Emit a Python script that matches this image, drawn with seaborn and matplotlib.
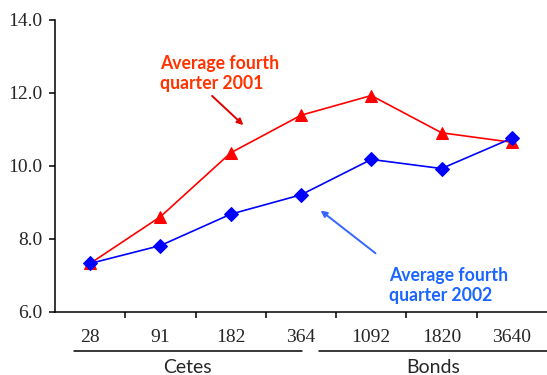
import matplotlib
matplotlib.use('Agg')
import matplotlib.pyplot as plt
import matplotlib.transforms as mtransforms
import pandas as pd
import seaborn as sns

# data
maturities = ['28', '91', '182', '364', '1092', '1820', '3640']
avg_2001 = [7.33, 8.61, 10.36, 11.39, 11.93, 10.91, 10.65]
avg_2002 = [7.33, 7.82, 8.68, 9.21, 10.18, 9.93, 10.76]
groups = ['Cetes', 'Bonds']
yticks = [6.0, 8.0, 10.0, 12.0, 14.0]

df01 = pd.DataFrame({'maturity': maturities, 'rate': avg_2001})
df02 = pd.DataFrame({'maturity': maturities, 'rate': avg_2002})

sns.set_style('white')
plt.rcParams['font.family'] = ['Liberation Serif', 'DejaVu Serif']

fig = plt.figure(figsize=(5.47, 3.75), dpi=100)
ax = fig.add_axes([0.1005, 0.168, 0.8995, 0.7787])

sns.lineplot(data=df01, x='maturity', y='rate', color='#FF0000', marker='^',
             markersize=9, markeredgecolor='#FF0000', linewidth=1.2, ax=ax)
sns.lineplot(data=df02, x='maturity', y='rate', color='#0000FF', marker='D',
             markersize=7, markeredgecolor='#0000FF', linewidth=1.2, ax=ax)

ax.set_xlim(-0.5, len(maturities) - 0.5)
ax.set_ylim(6.0, 14.0)
ax.set_yticks(yticks)
ax.set_yticklabels(['%.1f' % v for v in yticks], fontsize=14)
ax.set_xticks(range(len(maturities)))
ax.set_xticklabels(maturities, fontsize=14)
ax.set_xticks([i + 0.5 for i in range(len(maturities) - 1)], minor=True)
ax.tick_params(axis='x', which='major', length=0, pad=12)
ax.tick_params(axis='x', which='minor', length=4, width=1.1, color='black', direction='out', bottom=True)
ax.tick_params(axis='y', length=4, width=1.1, color='black', direction='out', left=True, pad=5)
ax.set_xlabel('')
ax.set_ylabel('')
for s in ['top', 'right']:
    ax.spines[s].set_visible(False)
for s in ['left', 'bottom']:
    ax.spines[s].set_color('black')
    ax.spines[s].set_linewidth(1.1)

# group labels under the tick labels
trans = mtransforms.blended_transform_factory(ax.transData, ax.transAxes)
spans = [(-0.23, 3.01), (3.26, 6.5)]
for name, (x0, x1) in zip(groups, spans):
    ax.plot([x0, x1], [-0.1325, -0.1325], color='black', lw=1.1, transform=trans, clip_on=False)
    ax.text((x0 + x1) / 2, -0.19, name, transform=trans, ha='center', va='center',
            fontsize=14, family=['Lato', 'DejaVu Sans'])

# annotations
ax.text(0.99, 13.04, 'Average fourth\nquarter 2001', color='#FF3300', fontsize=12.7,
        fontweight='bold', family=['Lato', 'DejaVu Sans'], ha='left', va='top', linespacing=1.2)
ax.annotate('', xy=(2.18, 11.12), xytext=(1.735, 11.92),
            arrowprops=dict(arrowstyle='-|>', color='#E00000', lw=1.4, mutation_scale=9,
                            shrinkA=0, shrinkB=0))
ax.text(4.25, 7.23, 'Average fourth\nquarter 2002', color='#1A66FF', fontsize=12.7,
        fontweight='bold', family=['Lato', 'DejaVu Sans'], ha='left', va='top', linespacing=1.2)
ax.annotate('', xy=(3.28, 8.78), xytext=(4.06, 7.61),
            arrowprops=dict(arrowstyle='-|>', color='#3366FF', lw=1.4, mutation_scale=9,
                            shrinkA=0, shrinkB=0))

fig.savefig('out.png', dpi=100)
